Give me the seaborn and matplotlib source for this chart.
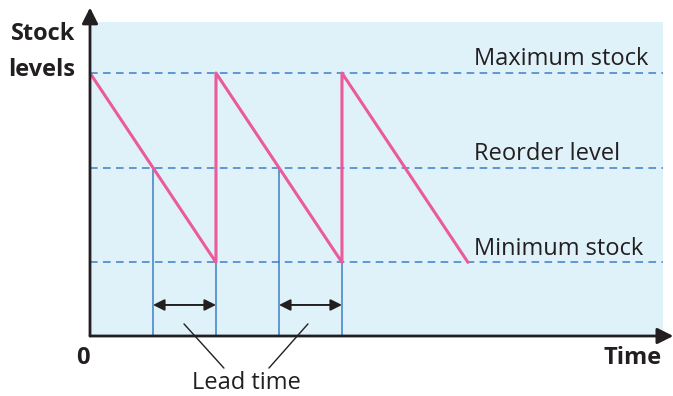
import matplotlib
matplotlib.use("Agg")
import matplotlib.pyplot as plt
import seaborn as sns
import pandas as pd

# ---- data ----
times = [0, 10, 10, 20, 20, 30]
stock = [100, 28, 100, 28, 100, 28]
level_names = ["Maximum stock", "Reorder level", "Minimum stock"]
level_values = [100, 64, 28]
reorder_times = [5, 15]
delivery_times = [10, 20]

sns.set_theme(style="white")
plt.rcParams['font.family'] = ['Open Sans', 'DejaVu Sans']

BG = "#dff1f9"
PINK = "#eb5a9b"
BLUE = "#3d7fc4"
DARK = "#231f20"
FS = 17

fig = plt.figure(figsize=(6.73, 3.96), dpi=100)
ax = fig.add_axes([90/673, 60/396, (663-90)/673, (336-22)/396])
ax.set_facecolor(BG)
for s in ax.spines.values():
    s.set_visible(False)
ax.set_xlim(0, 45.48)
ax.set_ylim(0, 119.4)
ax.set_xticks([])
ax.set_yticks([])

# dashed level lines
for name, v in zip(level_names, level_values):
    ax.axhline(v, color=BLUE, lw=1.1, ls=(0, (5, 3.5)), zorder=2)
    ax.text(30.5, v + 0.7, name, ha="left", va="bottom", fontsize=FS, color=DARK)

# vertical lead-time lines
for t in reorder_times:
    ax.plot([t, t], [0, level_values[1]], color=BLUE, lw=1.1, zorder=2)
for t in delivery_times:
    ax.plot([t, t], [0, level_values[0]], color=BLUE, lw=1.1, zorder=2)

# sawtooth stock line
df = pd.DataFrame({"time": times, "stock": stock})
sns.lineplot(data=df, x="time", y="stock", sort=False, estimator=None,
             color=PINK, lw=2.2, ax=ax, zorder=3)
ax.set_xlabel("")
ax.set_ylabel("")

# lead time double arrows
for r, d in zip(reorder_times, delivery_times):
    ax.annotate("", xy=(d, 11.8), xytext=(r, 11.8),
                arrowprops=dict(arrowstyle="<|-|>", color=DARK, lw=1.4,
                                mutation_scale=17, shrinkA=0, shrinkB=0))

# pointer lines to "Lead time"
ax.plot([7.46, 10.63], [4.6, -12.2], color=DARK, lw=1.0, clip_on=False)
ax.plot([17.3, 14.2], [4.6, -12.2], color=DARK, lw=1.0, clip_on=False)

# axes with arrows
ax.annotate("", xy=(46.3, 0), xytext=(0, 0), annotation_clip=False,
            arrowprops=dict(arrowstyle="-|>", color=DARK, lw=2.0,
                            mutation_scale=24, shrinkA=0, shrinkB=0))
ax.annotate("", xy=(0, 124.9), xytext=(0, 0), annotation_clip=False,
            arrowprops=dict(arrowstyle="-|>", color=DARK, lw=2.0,
                            mutation_scale=24, shrinkA=0, shrinkB=0))

# labels
ax.text(-1.2, 114.8, "Stock", ha="right", va="center", fontsize=FS,
        fontweight="bold", color=DARK)
ax.text(-1.2, 101.3, "levels", ha="right", va="center", fontsize=FS,
        fontweight="bold", color=DARK)
ax.text(-0.56, -8.5, "0", ha="center", va="center", fontsize=FS,
        fontweight="bold", color=DARK)
ax.text(45.4, -8.5, "Time", ha="right", va="center", fontsize=FS,
        fontweight="bold", color=DARK)
ax.text(12.4, -17.8, "Lead time", ha="center", va="center", fontsize=FS,
        color=DARK)

fig.savefig("out.png", dpi=100)
